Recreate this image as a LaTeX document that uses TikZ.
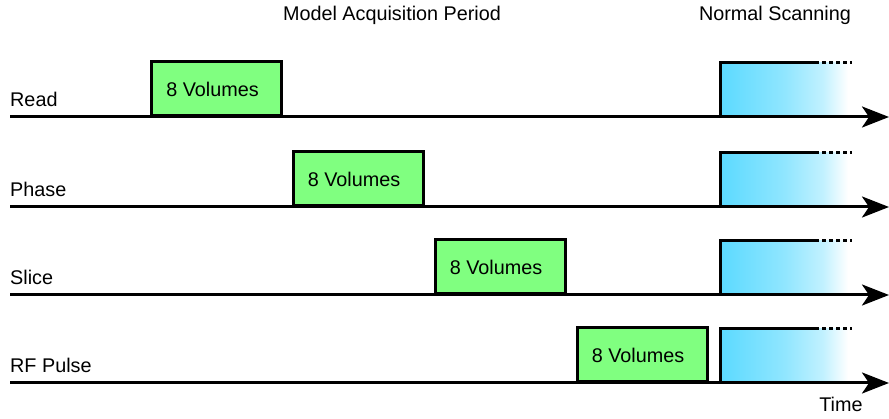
\documentclass[tikz,border=0pt]{standalone}
\usepackage{fontspec}
\setmainfont{Liberation Sans}
\usetikzlibrary{arrows.meta}
\definecolor{volgreen}{RGB}{128,255,128}
\definecolor{scancyan}{RGB}{92,218,255}
% horizontal fade used by the scanning blocks (25bp..75bp spans the filled shape)
\pgfdeclarehorizontalshading{scanfade}{100bp}{%
  color(0bp)=(scancyan); color(25bp)=(scancyan);
  color(50bp)=(scancyan!68!white); color(65bp)=(scancyan!38!white);
  color(75bp)=(white); color(100bp)=(white)}
\tikzset{
  lbl/.style={font=\fontsize{19.8}{22}\selectfont, inner sep=0pt},
  axisline/.style={line width=3pt, -{Stealth[length=27pt,width=21pt,inset=7pt]}},
  volbox/.style={draw, line width=3pt, fill=volgreen, minimum width=130pt,
    minimum height=54pt, inner sep=0pt},
  voltext/.style={font=\fontsize{19.8}{22}\selectfont, inner sep=0pt},
  scanedge/.style={line width=3pt, line cap=rect},
  scandots/.style={line width=3pt, dash pattern=on 4pt off 3pt},
}
\begin{document}
\begin{tikzpicture}[x=1pt,y=-1pt]
\useasboundingbox (0,0) rectangle (889,419);

% headings
\node[lbl, anchor=base] (hmodel) at (392,21) {Model Acquisition Period};
\node[lbl, anchor=base] (hnormal) at (775,21) {Normal Scanning};
\node[lbl, anchor=base] (htime) at (841,412) {Time};

% one channel per row: label, axis, acquisition block, scanning block
\foreach \nm/\txt/\yy/\bx in {read/Read/117/216.5, phase/Phase/207/358, slice/Slice/295/500, rf/RF Pulse/383/642}{
  \node[lbl, anchor=base west] (\nm-lbl) at (10,\yy-10) {\txt};
  \coordinate (\nm-start) at (10,\yy);
  \coordinate (\nm-end) at (889,\yy);
  % fading scanning block
  \shade[shading=scanfade] (721,\yy-54) rectangle (848,\yy);
  \coordinate (\nm-sbl) at (720,\yy);
  \coordinate (\nm-stl) at (720,\yy-54);
  \coordinate (\nm-str) at (815,\yy-54);
  \coordinate (\nm-sdot) at (852,\yy-54);
  \draw[scanedge] (\nm-sbl) -- (\nm-stl) -- (\nm-str);
  \draw[scandots] (\nm-str) -- (\nm-sdot);
  % acquisition block
  \node[volbox, anchor=south] (\nm-vol) at (\bx,\yy) {};
  \node[voltext] (\nm-voltxt) at ([xshift=-4pt,yshift=-1pt]\nm-vol.center) {8 Volumes};
  \draw[axisline] (\nm-start) -- (\nm-end);
}
\end{tikzpicture}
\end{document}
